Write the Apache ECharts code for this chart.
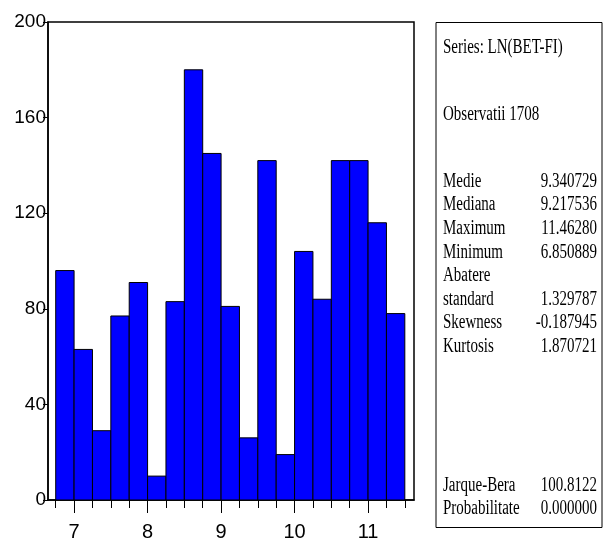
<!DOCTYPE html>
<html>
<head>
<meta charset="utf-8">
<script src="https://cdn.jsdelivr.net/npm/echarts@6/dist/echarts.min.js"></script>
<style>
  html, body { margin: 0; padding: 0; background: #fff; }
  #main { width: 606px; height: 543px; }
</style>
</head>
<body>
<div id="main"></div>
<script>
// histogram data (bins 0.25 wide from 6.75)
var binStart = 6.75;
var binWidth = 0.25;
var counts = [96, 63, 29, 77, 91, 10, 83, 180, 145, 81, 26, 142, 19, 104, 84, 142, 142, 116, 78];

var minorTicks = [6.75, 7, 7.25, 7.5, 7.75, 8, 8.25, 8.5, 8.75, 9, 9.25, 9.5, 9.75, 10, 10.25, 10.5, 10.75, 11, 11.25, 11.5];
var majorTicks = [7, 8, 9, 10, 11];

// statistics panel
var statNames = ['Medie', 'Mediana', 'Maximum', 'Minimum', 'Abatere', 'standard', 'Skewness', 'Kurtosis', 'Jarque-Bera', 'Probabilitate'];
var statValues = ['9.340729', '9.217536', '11.46280', '6.850889', '', '1.329787', '-0.187945', '1.870721', '100.8122', '0.000000'];
var statRows = [182, 205, 229, 253, 276, 300, 323, 347, 486, 509];

var myChart = echarts.init(document.getElementById('main'));

var bins = counts.map(function (c, i) {
    return [binStart + i * binWidth, binStart + (i + 1) * binWidth, c];
});

var serif = 'Liberation Serif, Times New Roman, serif';
var textEls = [];
function addText(txt, x, y, align) {
    textEls.push({
        type: 'text', x: x, y: y, scaleX: 0.75,
        style: { text: txt, fontSize: 20, fontFamily: serif, fill: '#000', align: align, verticalAlign: 'middle' }
    });
}
addText('Series: LN(BET-FI)', 443, 48, 'left');
addText('Observatii 1708', 443, 115, 'left');
for (var i = 0; i < statNames.length; i++) {
    addText(statNames[i], 443, statRows[i], 'left');
    if (statValues[i]) addText(statValues[i], 597, statRows[i], 'right');
}

var labelFont = 'Liberation Sans Narrow, Arial Narrow, Liberation Sans, sans-serif';

option = {
    animation: false,
    grid: {
        left: 48, top: 22, right: 192, bottom: 43,
        show: true, borderColor: '#000', borderWidth: 1.5
    },
    xAxis: [
        {
            type: 'value', min: 6.645, max: 11.625,
            splitLine: { show: false },
            axisLine: { show: true, lineStyle: { color: '#000', width: 1.5 } },
            axisTick: { show: true, length: 8, customValues: minorTicks, lineStyle: { color: '#000' } },
            axisLabel: { show: false }
        },
        {
            type: 'value', min: 6.645, max: 11.625, position: 'bottom',
            splitLine: { show: false },
            axisLine: { show: false },
            axisTick: { show: true, length: 13, customValues: majorTicks, lineStyle: { color: '#000' } },
            axisLabel: {
                customValues: majorTicks, margin: 22, color: '#000',
                fontSize: 20, fontFamily: labelFont
            }
        }
    ],
    yAxis: {
        type: 'value', min: 0, max: 200, interval: 40,
        splitLine: { show: false },
        axisLine: { show: true, lineStyle: { color: '#000', width: 1.5 } },
        axisTick: { show: true, length: 5, lineStyle: { color: '#000' } },
        axisLabel: { margin: 2, color: '#000', fontSize: 19, fontFamily: labelFont }
    },
    series: [{
        type: 'custom',
        xAxisIndex: 0,
        data: bins,
        renderItem: function (params, api) {
            var p0 = api.coord([api.value(0), api.value(2)]);
            var p1 = api.coord([api.value(1), 0]);
            return {
                type: 'rect',
                shape: { x: p0[0], y: p0[1], width: p1[0] - p0[0], height: p1[1] - p0[1] },
                style: { fill: '#0000ff', stroke: '#000', lineWidth: 1 }
            };
        }
    }],
    graphic: [{
        type: 'rect',
        shape: { x: 436, y: 22.5, width: 166, height: 505 },
        style: { fill: 'none', stroke: '#000', lineWidth: 1 }
    }].concat(textEls)
};

myChart.setOption(option);
</script>
</body>
</html>
